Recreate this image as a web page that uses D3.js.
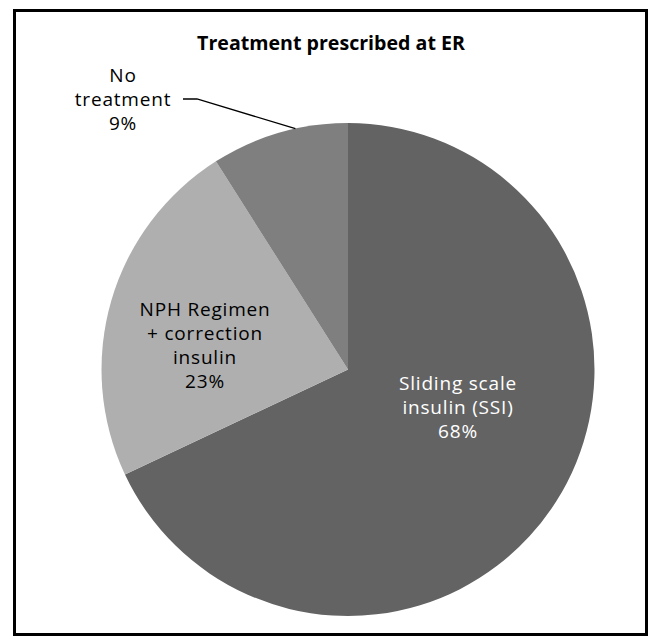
<!DOCTYPE html>
<html>
<head>
<meta charset="utf-8">
<script src="https://cdn.jsdelivr.net/npm/d3@7"></script>
<style>
	body{margin:0;background:#fff;}
	svg text{font-family:"Open Sans","Noto Sans",sans-serif;}
</style>
</head>
<body>
<script>
//chart data
var categories=["Sliding scale insulin (SSI)","NPH Regimen + correction insulin","No treatment"];
var shares=[68,23,9];
var labelLines=[["Sliding scale","insulin (SSI)"],["NPH Regimen","+ correction","insulin"],["No","treatment"]];
var colors=["#636363","#afafaf","#7f7f7f"];

window.onload=drawPie();

function drawPie(){
	var width=652,
		height=636;

	var svg=d3.select("body")
		.append("svg")
		.attr("width",width)
		.attr("height",height);

	//outer frame
	svg.append("rect")
		.attr("x",14.5)
		.attr("y",10.5)
		.attr("width",632)
		.attr("height",624)
		.attr("fill","none")
		.attr("stroke","#000")
		.attr("stroke-width",3);

	//title
	svg.append("text")
		.attr("x",331)
		.attr("y",50)
		.attr("text-anchor","middle")
		.style("font-size","19.6px")
		.style("font-weight","bold")
		.text("Treatment prescribed at ER");

	var cx=348,
		cy=369.5,
		radius=246.5;

	var pie=d3.pie()
		.sort(null)
		.value(function(d){return d;});

	var arc=d3.arc()
		.innerRadius(0)
		.outerRadius(radius);

	var g=svg.append("g")
		.attr("transform","translate("+cx+","+cy+")");

	var slices=pie(shares);

	g.selectAll(".slice")
		.data(slices)
		.enter()
		.append("path")
		.attr("class","slice")
		.attr("d",arc)
		.attr("fill",function(d,i){return colors[i];});

	//label placement, relative to pie centre (first line baseline)
	var labelPos=[
		{x:110,y:20.5,fill:"#fff"},
		{x:-143,y:-53.5,fill:"#000"},
		{x:-225,y:-288,fill:"#000"}
	];
	var lineGap=24;

	slices.forEach(function(s,i){
		var lines=labelLines[i].concat([shares[i]+"%"]);
		var t=g.append("text")
			.attr("text-anchor","middle")
			.attr("fill",labelPos[i].fill)
			.style("font-size","19px")
			.style("letter-spacing","0.8px");
		lines.forEach(function(l,j){
			t.append("tspan")
				.attr("x",labelPos[i].x)
				.attr("y",labelPos[i].y+j*lineGap)
				.text(l);
		});
	});

	//leader line for the small slice
	var small=slices[2];
	var edgeAngle=small.startAngle+0.62*(small.endAngle-small.startAngle);
	var ex=Math.sin(edgeAngle)*radius,
		ey=-Math.cos(edgeAngle)*radius;
	g.append("polyline")
		.attr("points",[[-165,-270.5],[-151,-270.5],[ex,ey]].map(function(p){return p.join(",");}).join(" "))
		.attr("fill","none")
		.attr("stroke","#000")
		.attr("stroke-width",1.3);
}
</script>
</body>
</html>
